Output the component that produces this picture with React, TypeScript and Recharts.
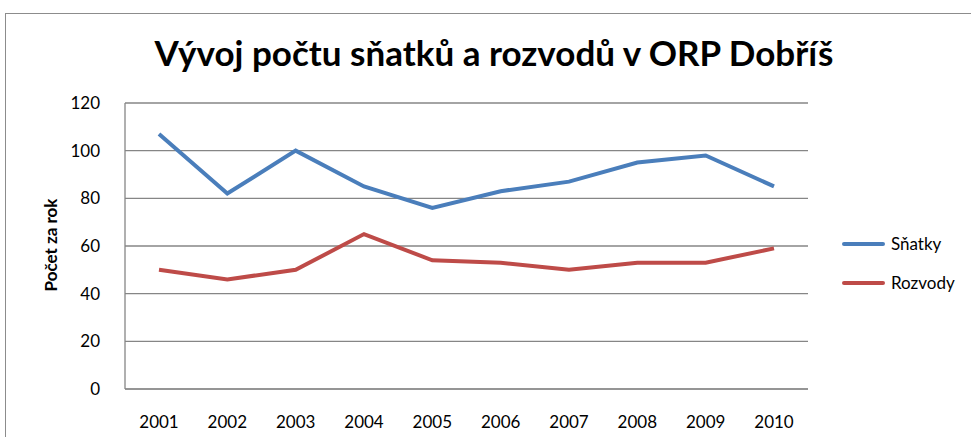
import { LineChart, Line, XAxis, YAxis, CartesianGrid } from "recharts";

const years = ["2001", "2002", "2003", "2004", "2005", "2006", "2007", "2008", "2009", "2010"];
const snatky = [107, 82, 100, 85, 76, 83, 87, 95, 98, 85];
const rozvody = [50, 46, 50, 65, 54, 53, 50, 53, 53, 59];
const yTicks = [0, 20, 40, 60, 80, 100, 120];

const data = years.map((year, i) => ({ year, snatky: snatky[i], rozvody: rozvody[i] }));

const FONT = "Lato, 'Open Sans', sans-serif";
const GRID = "#868686";

const legendItems = [
  { name: "Sňatky", color: "#4a7ebb" },
  { name: "Rozvody", color: "#be4b48" },
];

// legenda vpravo, vykreslená mimo graf, aby nezmenšovala plochu grafu
function ChartLegend() {
  return (
    <div
      style={{
        position: "absolute",
        left: 842,
        top: 224,
        fontFamily: FONT,
        fontSize: 17,
        color: "#000",
      }}
    >
      {legendItems.map((item) => (
        <div key={item.name} style={{ display: "flex", alignItems: "center", height: 39 }}>
          <span
            style={{
              display: "inline-block",
              width: 43,
              height: 4,
              borderRadius: 2,
              background: item.color,
              marginRight: 6,
            }}
          />
          {item.name}
        </div>
      ))}
    </div>
  );
}

export default function App() {
  return (
    <div
      style={{
        position: "absolute",
        left: 0,
        top: 0,
        width: 971,
        height: 437,
        overflow: "hidden",
        background: "#fff",
      }}
    >
      <div
        style={{
          position: "absolute",
          left: 5,
          top: 13,
          width: 1000,
          height: 500,
          border: "1px solid #8c8c8c",
        }}
      />
      <div
        style={{
          position: "absolute",
          left: 0,
          top: 31,
          width: 988,
          textAlign: "center",
          fontFamily: FONT,
          fontWeight: 700,
          fontSize: 35,
          color: "#000",
        }}
      >
        Vývoj počtu sňatků a rozvodů v ORP Dobříš
      </div>
      <div
        style={{
          position: "absolute",
          left: 50,
          top: 245,
          transform: "translate(-50%, -50%) rotate(-90deg)",
          fontFamily: FONT,
          fontWeight: 700,
          fontSize: 17,
          whiteSpace: "nowrap",
        }}
      >
        Počet za rok
      </div>
      <LineChart
        width={971}
        height={437}
        data={data}
        margin={{ top: 103, right: 163, bottom: 0, left: 75 }}
        style={{ position: "absolute", left: 0, top: 0 }}
      >
        <CartesianGrid vertical={false} stroke={GRID} strokeWidth={1.3} />
        <XAxis
          dataKey="year"
          tickLine={false}
          axisLine={{ stroke: GRID }}
          tick={{ fill: "#000", fontSize: 17, fontFamily: FONT }}
          padding={{ left: 34, right: 34 }}
          tickMargin={21}
          height={48}
        />
        <YAxis
          domain={[0, 120]}
          ticks={yTicks}
          tickLine={false}
          axisLine={{ stroke: GRID, strokeWidth: 1.3 }}
          tick={{ fill: "#000", fontSize: 17, fontFamily: FONT }}
          width={50}
          tickMargin={19}
        />
        <Line
          dataKey="snatky"
          name="Sňatky"
          stroke="#4a7ebb"
          strokeWidth={4}
          dot={false}
          isAnimationActive={false}
        />
        <Line
          dataKey="rozvody"
          name="Rozvody"
          stroke="#be4b48"
          strokeWidth={4}
          dot={false}
          isAnimationActive={false}
        />
      </LineChart>
      <ChartLegend />
    </div>
  );
}
